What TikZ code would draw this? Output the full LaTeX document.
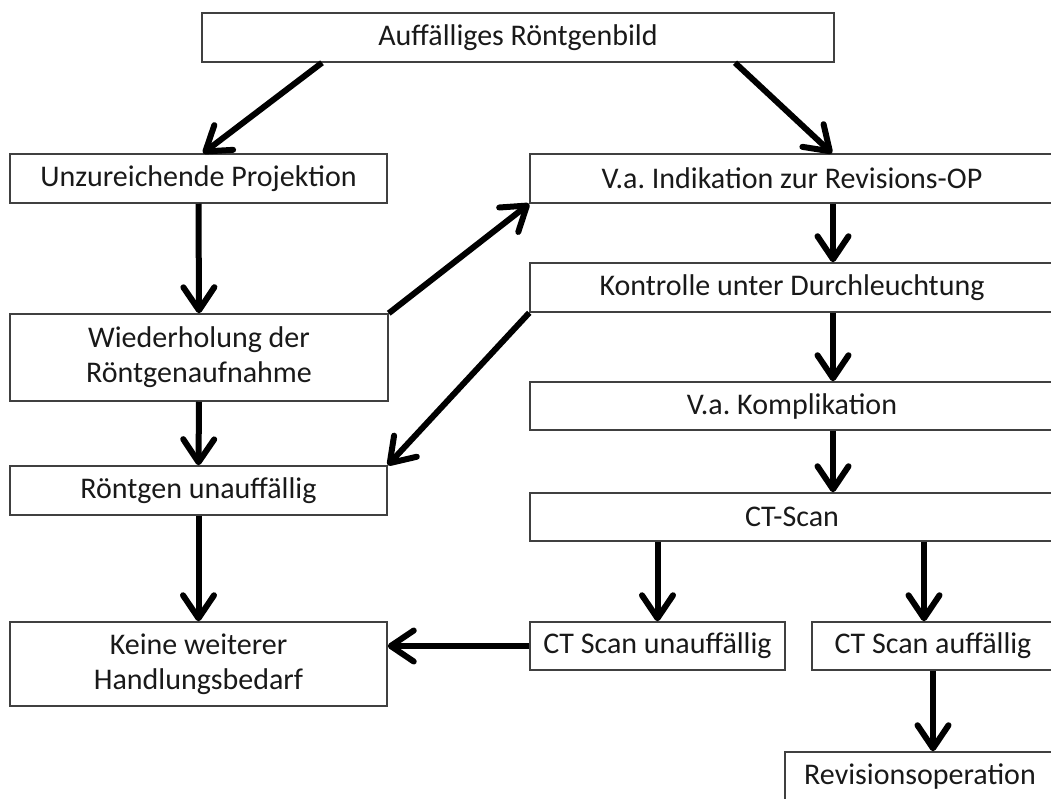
\documentclass[tikz,border=0pt]{standalone}
\usepackage{fontspec}
\setmainfont{Carlito}
\usetikzlibrary{arrows.meta}
\frenchspacing
\begin{document}
\begin{tikzpicture}[x=1pt,y=-1pt,
  box/.style={draw=black!75, line width=1.5pt, rectangle, inner sep=0pt, align=center,
    font=\fontsize{30}{35}\selectfont, text=black!90},
  flow/.style={line width=6pt, -{Straight Barb[length=23pt,width=31pt,round]}}]
\useasboundingbox (0,0) rectangle (1051,798);
\clip (0,0) rectangle (1051,798);
\node[box, minimum width=632pt, minimum height=49pt] (top) at (518,37.5) {Auffälliges Röntgenbild};
\node[box, minimum width=377pt, minimum height=49pt] (unz) at (198.5,178.5) {Unzureichende Projektion};
\node[box, minimum width=378pt, minimum height=87pt] (wied) at (199,357.5) {Wiederholung der\\Röntgenaufnahme};
\node[box, minimum width=377pt, minimum height=49pt] (ro) at (198.5,490.5) {Röntgen unauffällig};
\node[box, minimum width=377pt, minimum height=84pt] (keine) at (198.5,664) {Keine weiterer\\Handlungsbedarf};
\node[box, minimum width=524pt, minimum height=49pt] (ind) at (792,178.5) {V.a. Indikation zur Revisions-OP};
\node[box, minimum width=524pt, minimum height=49pt] (kontr) at (792,287.5) {Kontrolle unter Durchleuchtung};
\node[box, minimum width=524pt, minimum height=48pt] (kompl) at (792,406) {V.a. Komplikation};
\node[box, minimum width=524pt, minimum height=48pt] (ct) at (792,517) {CT-Scan};
\node[box, minimum width=255pt, minimum height=48pt] (ctu) at (657.5,646) {CT Scan unauffällig};
\node[box, minimum width=242pt, minimum height=48pt] (cta) at (933,646) {CT Scan auffällig};
\node[box, minimum width=270pt, minimum height=49pt] (rev) at (920,776.5) {Revisionsoperation};
\coordinate (c12) at ([xshift=-9pt]cta.north);
\draw[flow] ([xshift=-196pt]top.south) -- ([xshift=4.5pt]unz.north);
\draw[flow] ([xshift=217pt]top.south) -- ([xshift=40pt]ind.north);
\draw[flow] (unz.south) -- (wied.north);
\draw[flow] (wied.north east) -- (ind.south west);
\draw[flow] (kontr.south west) -- (ro.north east);
\draw[flow] (wied.south) -- (ro.north);
\draw[flow] (ro.south) -- (keine.north);
\draw[flow] ([xshift=41pt]ind.south) -- ([xshift=41pt]kontr.north);
\draw[flow] ([xshift=41pt]kontr.south) -- ([xshift=41pt]kompl.north);
\draw[flow] ([xshift=41pt]kompl.south) -- ([xshift=41pt]ct.north);
\draw[flow] (ct.south -| ctu.north) -- (ctu.north);
\draw[flow] (c12 |- ct.south) -- (c12);
\draw[flow] (cta.south) -- (cta.south |- rev.north);
\draw[flow] (ctu.west) -- (ctu.west -| keine.east);
\end{tikzpicture}
\end{document}
